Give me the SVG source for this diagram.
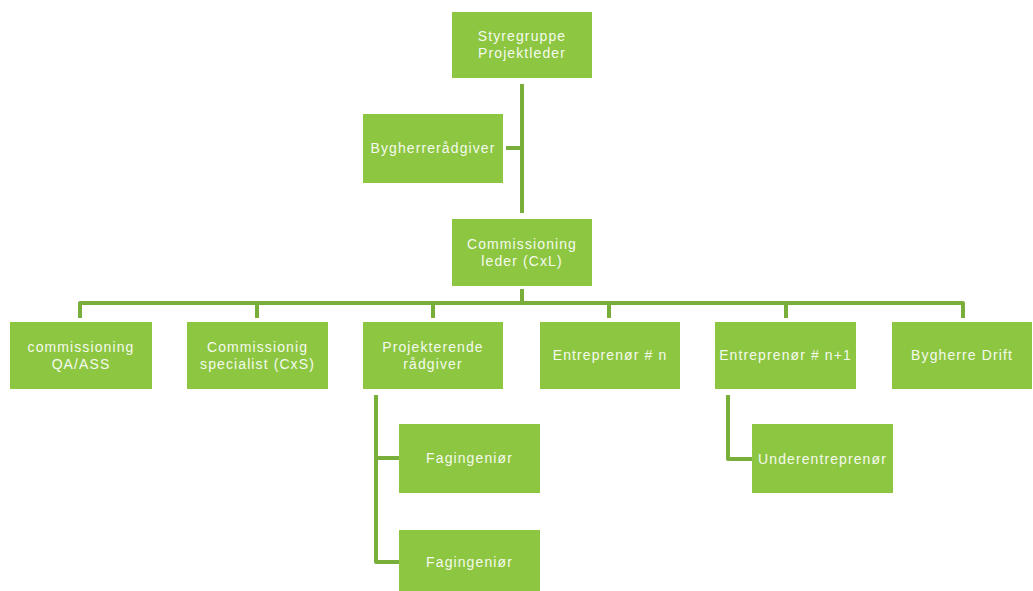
<svg xmlns="http://www.w3.org/2000/svg" width="1033" height="591" viewBox="0 0 1033 591">
<style>
.box{fill:#8dc641;}
.t{font-family:"Liberation Sans",Arial,sans-serif;font-size:14px;fill:#f4faee;text-anchor:middle;dominant-baseline:central;letter-spacing:1.1px;}
.c{fill:none;stroke:#79ae3b;stroke-width:4;stroke-linejoin:round;}
</style>
<rect width="1033" height="591" fill="#ffffff"/>
<g id="connectors">
<path class="c" d="M522 84 V213"/>
<path class="c" d="M506 148 H522"/>
<path class="c" d="M522 289 V303 M80 318 V303 H963 V318 M257 303 V318 M433 303 V318 M609 303 V318 M786 303 V318"/>
<path class="c" d="M376 395 V562 H399 M376 458 H399"/>
<path class="c" d="M728 395 V459 H752"/>
</g>
<g id="styregruppe"><rect class="box" x="452" y="12" width="140" height="66"/><text class="t" x="522" y="36">Styregruppe</text><text class="t" x="522" y="53">Projektleder</text></g>
<g id="bygherreraadgiver"><rect class="box" x="363" y="114" width="140" height="69"/><text class="t" x="433" y="148">Bygherrerådgiver</text></g>
<g id="cxl"><rect class="box" x="452" y="219" width="140" height="67"/><text class="t" x="522" y="244">Commissioning</text><text class="t" x="522" y="261">leder (CxL)</text></g>
<g id="qa"><rect class="box" x="10" y="322" width="142" height="67"/><text class="t" x="81" y="347">commissioning</text><text class="t" x="81" y="364">QA/ASS</text></g>
<g id="cxs"><rect class="box" x="187" y="322" width="141" height="67"/><text class="t" x="257.5" y="347">Commissionig</text><text class="t" x="257.5" y="364">specialist (CxS)</text></g>
<g id="projekterende"><rect class="box" x="363" y="322" width="140" height="67"/><text class="t" x="433" y="347">Projekterende</text><text class="t" x="433" y="364">rådgiver</text></g>
<g id="entreprenor-n"><rect class="box" x="540" y="322" width="140" height="67"/><text class="t" x="610" y="355">Entreprenør # n</text></g>
<g id="entreprenor-n1"><rect class="box" x="715" y="322" width="141" height="67"/><text class="t" x="785.5" y="355">Entreprenør # n+1</text></g>
<g id="bygherre-drift"><rect class="box" x="892" y="322" width="140" height="67"/><text class="t" x="962" y="355">Bygherre Drift</text></g>
<g id="fagingenior1"><rect class="box" x="399" y="424" width="141" height="69"/><text class="t" x="469.5" y="458">Fagingeniør</text></g>
<g id="fagingenior2"><rect class="box" x="399" y="530" width="141" height="61"/><text class="t" x="469.5" y="562">Fagingeniør</text></g>
<g id="underentreprenor"><rect class="box" x="752" y="424" width="141" height="69"/><text class="t" x="822.5" y="459">Underentreprenør</text></g>
</svg>
